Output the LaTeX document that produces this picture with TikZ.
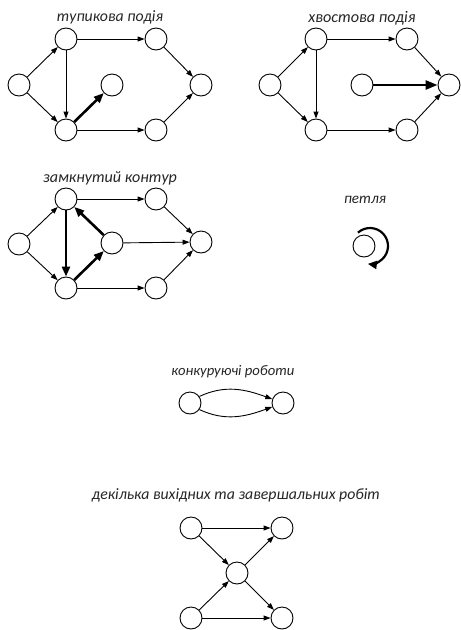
\documentclass[tikz,border=0pt]{standalone}
\usepackage{fontspec}
\usepackage{graphicx}
\setmainfont{Carlito}
\usetikzlibrary{arrows.meta}
\newcommand{\ttlw}[2]{\resizebox{#1pt}{!}{\fontsize{13.5}{15}\selectfont\itshape #2}}
\tikzset{
  ev/.style={circle,draw,line width=0.9pt,minimum size=22pt,inner sep=0pt},
  arr/.style={line width=0.9pt,-{Triangle[length=7pt,width=5pt]}},
  tarr/.style={line width=2.6pt,-{Triangle[length=10pt,width=8pt]}},
  ttl/.style={inner sep=0pt,text=black!85}
}
\begin{document}
\begin{tikzpicture}[x=1pt,y=1pt]
\useasboundingbox (0,0) rectangle (461,-630);
% ---- diagram 1
\node[ttl] (t1) at (110,-17) {\ttlw{106}{тупикова подія}};
\node[ev] (aL) at (19,-85) {};
\node[ev] (aTL) at (66,-39) {};
\node[ev] (aBL) at (66,-130) {};
\node[ev] (aD) at (112,-85) {};
\node[ev] (aTR) at (156,-39) {};
\node[ev] (aBR) at (156,-130) {};
\node[ev] (aR) at (201,-85) {};
\draw[arr] (aL) -- (aTL);
\draw[arr] (aL) -- (aBL);
\draw[arr] (aTL) -- (aTR);
\draw[arr] (aTL) -- (aBL);
\draw[arr] (aBL) -- (aBR);
\draw[arr] (aTR) -- (aR);
\draw[arr] (aBR) -- (aR);
\draw[tarr] (aBL) -- (aD);
% ---- diagram 2
\node[ttl] (t2) at (362,-18) {\ttlw{107}{хвостова подія}};
\node[ev] (bL) at (270,-85) {};
\node[ev] (bTL) at (316,-39) {};
\node[ev] (bBL) at (316,-130) {};
\node[ev] (bM) at (362,-85) {};
\node[ev] (bTR) at (407,-39) {};
\node[ev] (bBR) at (407,-130) {};
\node[ev] (bR) at (449,-85) {};
\draw[arr] (bL) -- (bTL);
\draw[arr] (bL) -- (bBL);
\draw[arr] (bTL) -- (bTR);
\draw[arr] (bTL) -- (bBL);
\draw[arr] (bBL) -- (bBR);
\draw[arr] (bTR) -- (bR);
\draw[arr] (bBR) -- (bR);
\draw[line width=2.6pt,-{Triangle[length=12pt,width=9pt]}] (bM) -- (bR);
% ---- diagram 3
\node[ttl] (t3) at (110,-178) {\ttlw{134}{замкнутий контур}};
\node[ev] (cL) at (19,-244) {};
\node[ev] (cTL) at (66,-199) {};
\node[ev] (cBL) at (66,-288) {};
\node[ev] (cM) at (112,-243) {};
\node[ev] (cTR) at (156,-199) {};
\node[ev] (cBR) at (156,-288) {};
\node[ev] (cR) at (201,-242) {};
\draw[arr] (cL) -- (cTL);
\draw[arr] (cL) -- (cBL);
\draw[arr] (cTL) -- (cTR);
\draw[arr] (cBL) -- (cBR);
\draw[arr] (cTR) -- (cR);
\draw[arr] (cBR) -- (cR);
\draw[arr] (cM) -- (cR);
\draw[tarr] (cTL) -- (cBL);
\draw[tarr] (cBL) -- (cM);
\draw[tarr] (cM) -- (cTL);
% ---- loop
\node[ttl] (t4) at (365,-200) {\ttlw{42}{петля}};
\node[ev] (p) at (364,-246) {};
\coordinate (ps) at ([shift={(132:18)}]370,-246);
\draw[line width=2.2pt,-{Triangle[length=9pt,width=8pt]}] (ps) arc[start angle=132,end angle=-97,radius=18];
% ---- concurrent
\node[ttl] (t5) at (233,-372) {\ttlw{123}{конкуруючі роботи}};
\node[ev] (kL) at (190,-403) {};
\node[ev] (kR) at (283,-403) {};
\draw[arr] (kL.35) to[out=25,in=160] (kR.160);
\draw[arr] (kL.-35) to[out=-25,in=-160] (kR.-160);
% ---- multiple
\node[ttl] (t6) at (236,-495) {\ttlw{288}{декілька вихідних та завершальних робіт}};
\node[ev] (mTL) at (191,-528) {};
\node[ev] (mTR) at (282,-528) {};
\node[ev] (mC) at (237,-573) {};
\node[ev] (mBL) at (191,-618) {};
\node[ev] (mBR) at (282,-618) {};
\draw[arr] (mTL) -- (mTR);
\draw[arr] (mTL) -- (mC);
\draw[arr] (mC) -- (mTR);
\draw[arr] (mBL) -- (mC);
\draw[arr] (mBL) -- (mBR);
\draw[arr] (mC) -- (mBR);
\end{tikzpicture}
\end{document}
